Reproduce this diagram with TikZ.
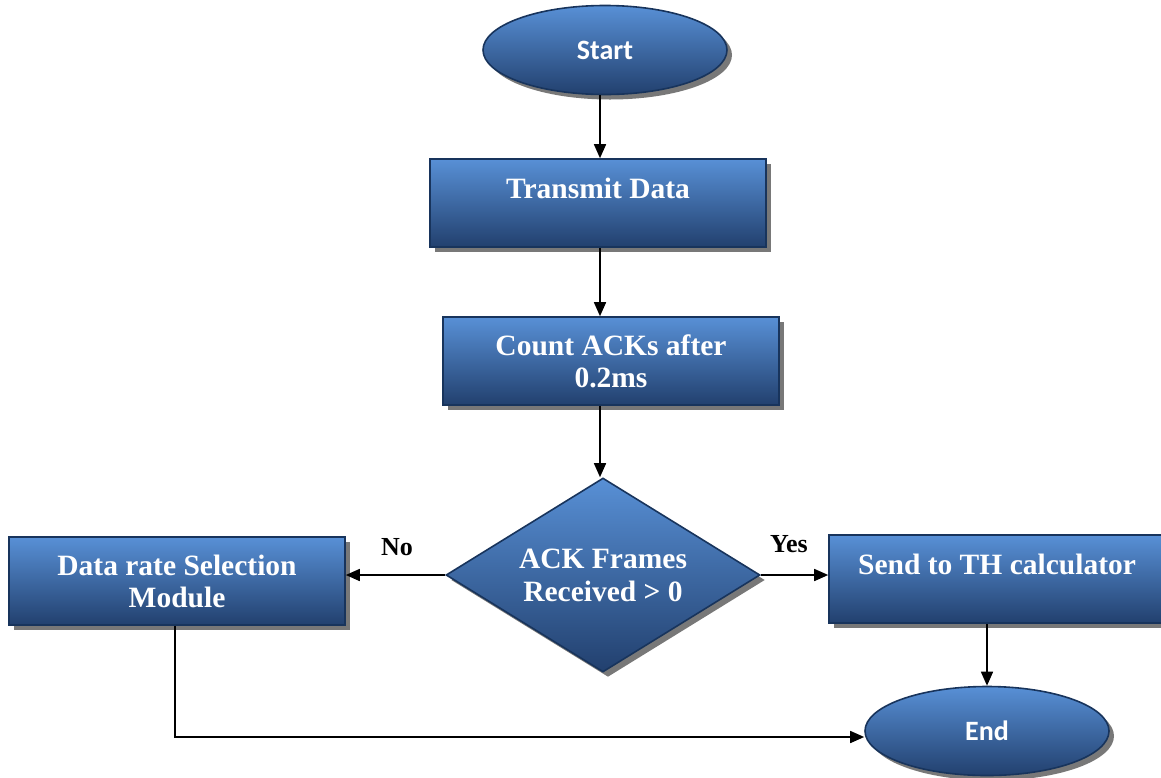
\documentclass[tikz,border=0pt]{standalone}
\usepackage{fontspec}
\setmainfont{Liberation Serif}
\newfontfamily\termfont{Carlito}
\usetikzlibrary{shapes.geometric,arrows.meta,shadows}
\definecolor{boxtop}{RGB}{88,144,214}
\definecolor{boxbot}{RGB}{34,64,110}
\definecolor{boxline}{RGB}{24,52,92}
\definecolor{shade}{RGB}{120,120,120}
\tikzset{
  flowbase/.style={draw=boxline, line width=1.6pt, top color=boxtop, bottom color=boxbot,
    text=white, align=center, inner sep=0pt,
    drop shadow={shadow xshift=5pt, shadow yshift=-5pt, fill=shade, opacity=1}},
  procbox/.style={flowbase, rectangle, minimum width=336pt, minimum height=88pt,
    font=\fontsize{29.5}{32}\selectfont\bfseries},
  termbox/.style={flowbase, ellipse, minimum width=244pt, minimum height=89pt,
    font=\termfont\fontsize{28}{32}\selectfont\bfseries},
  decbox/.style={flowbase, diamond, aspect=1.62, minimum width=314pt, minimum height=194pt,
    font=\fontsize{29.5}{33}\selectfont\bfseries},
  flow/.style={line width=1.6pt, -{Triangle[length=14pt,width=12pt]}},
  branch/.style={font=\fontsize{26}{30}\selectfont\bfseries, text=black}
}
\begin{document}
\begin{tikzpicture}[x=1pt,y=-1pt]
  \useasboundingbox (0,0) rectangle (1161,777);
  \clip (0,0) rectangle (1161,777);

  \node[termbox] (start) at (605,50) {\raisebox{-3pt}{Start}};
  \node[procbox] (tx) at (598,203) {Transmit Data\\[-12pt]\strut};
  \node[procbox] (count) at (611,361) {Count ACKs after\\0.2ms};
  \node[decbox] (ack) at (603,575) {ACK Frames\\Received > 0};
  \node[procbox] (rate) at (177,581) {Data rate Selection\\Module};
  \node[procbox] (send) at (997,579) {Send to TH calculator\\[-12pt]\strut};
  \node[termbox] (end) at (987,731) {End};

  \node[branch] (no) at (397,547) {No};
  \node[branch] (yes) at (789,544) {Yes};

  \coordinate (startout) at (start.south -| 600,0);
  \draw[flow] (startout) -- (startout |- tx.north);
  \coordinate (txout) at (tx.south -| 600,0);
  \draw[flow] (txout) -- (txout |- count.north);
  \coordinate (countout) at (count.south -| 600,0);
  \draw[flow] (countout) -- (countout |- ack.north);
  \draw[flow] (ack.west) -- (ack.west -| rate.east);
  \draw[flow] (ack.east) -- (ack.east -| send.west);
  \coordinate (sendout) at (send.south -| 987,0);
  \draw[flow] (sendout) -- (end.north);
  \coordinate (rateout) at (rate.south -| 175,0);
  \coordinate (endin) at (end.west |- 0,737);
  \draw[flow] (rateout) |- (endin);
\end{tikzpicture}
\end{document}
